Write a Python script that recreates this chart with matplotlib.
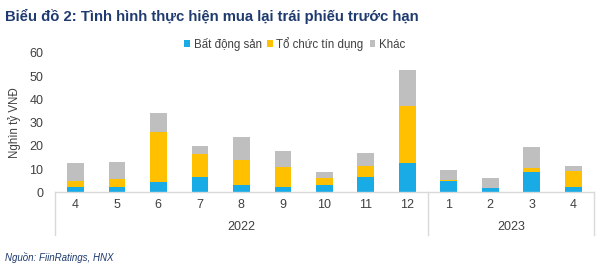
import numpy as np
import matplotlib.pyplot as plt

months = ['4', '5', '6', '7', '8', '9', '10', '11', '12', '1', '2', '3', '4']
years = ['2022', '2023']
year_counts = [9, 4]

bds = [2.3, 2.3, 4.4, 6.6, 3.0, 2.3, 3.0, 6.7, 12.6, 5.1, 2.0, 8.9, 2.4]
tctd = [2.7, 3.6, 21.6, 10.0, 11.1, 8.8, 3.4, 4.7, 24.6, 0.1, 0.0, 1.5, 7.0]
khac = [7.6, 7.1, 8.3, 3.4, 9.8, 6.6, 2.3, 5.6, 15.4, 4.4, 4.2, 9.2, 2.0]

c_blue = '#18ABE6'
c_yellow = '#FFC000'
c_grey = '#BFBFBF'
navy = '#1F3A6E'

plt.rcParams['font.family'] = ['Liberation Sans', 'DejaVu Sans']

fig = plt.figure(figsize=(6, 2.68), dpi=100)
ax = fig.add_axes([0.091, 0.282, 0.899, 0.521])

x = np.arange(len(months))
bds = np.array(bds)
tctd = np.array(tctd)
khac = np.array(khac)
w = 0.4
ax.bar(x, bds, w, color=c_blue, label='Bất động sản')
ax.bar(x, tctd, w, bottom=bds, color=c_yellow, label='Tổ chức tín dụng')
ax.bar(x, khac, w, bottom=bds + tctd, color=c_grey, label='Khác')

ax.set_xlim(-0.5, len(months) - 0.5)
ax.set_ylim(0, 60)
ax.set_yticks(range(0, 61, 10))
ax.tick_params(axis='y', length=0, labelsize=9, colors='#404040', pad=8)
ax.set_xticks([])
for s in ['top', 'right', 'left']:
    ax.spines[s].set_visible(False)
ax.spines['bottom'].set_color('#D9D9D9')
ax.spines['bottom'].set_linewidth(1)
ax.set_ylabel('Nghìn tỷ VNĐ', fontsize=8.3, color='#404040', labelpad=6)

# month labels and year groups below the axis
for i, m in enumerate(months):
    ax.text(i, -5.5, m, ha='center', va='center', fontsize=9, color='#404040')
start = -0.5
bounds = [start]
for name, n in zip(years, year_counts):
    ax.text(start + n / 2, -15, name, ha='center', va='center', fontsize=9, color='#404040')
    start += n
    bounds.append(start)
for b in bounds:
    ax.plot([b, b], [0, -18.5], color='#D9D9D9', lw=1, clip_on=False)

leg = ax.legend(loc='upper center', bbox_to_anchor=(0.445, 1.19), ncol=3, frameon=False,
                fontsize=8.3, handlelength=0.5, handleheight=0.5, handletextpad=0.3,
                columnspacing=0.5)
for t in leg.get_texts():
    t.set_color('#404040')

fig.text(0.008, 0.94, 'Biểu đồ 2: Tình hình thực hiện mua lại trái phiếu trước hạn',
         fontsize=10.7, fontweight='bold', color=navy, va='center')
fig.text(0.008, 0.04, 'Nguồn: FiinRatings, HNX', fontsize=7, style='italic',
         color=navy, va='center')

fig.savefig('out.png', dpi=100)
